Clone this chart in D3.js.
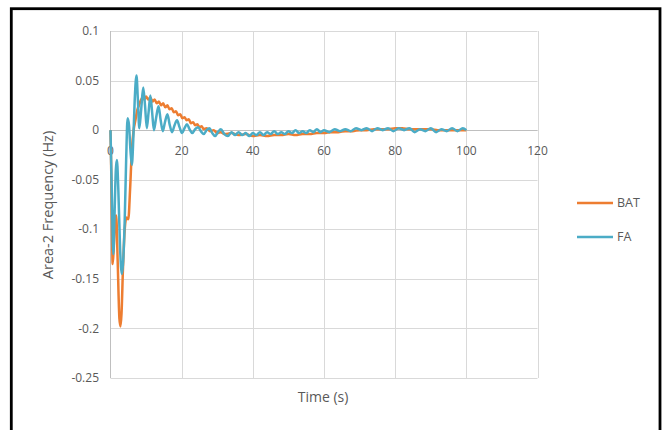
<!DOCTYPE html>
<html>
<head>
<meta charset="utf-8">
<script src="https://cdn.jsdelivr.net/npm/d3@7"></script>
<style>
  body { margin: 0; background: #fff; }
  svg { display: block; font-family: "Open Sans", sans-serif; }
</style>
</head>
<body>
<div class="chart"></div>
<script>
const xTicks = [0, 20, 40, 60, 80, 100, 120];
const yTicks = [0.1, 0.05, 0, -0.05, -0.1, -0.15, -0.2, -0.25];
const seriesNames = ["BAT", "FA"];

// [time (s), frequency deviation (Hz)]
const batPoints = [
  [0, 0], [0.3, -0.06], [0.6, -0.135], [0.9, -0.12], [1.3, -0.09], [1.6, -0.086],
  [2.0, -0.13], [2.5, -0.19], [2.8, -0.198], [3.1, -0.185], [3.5, -0.14], [4.0, -0.1],
  [4.5, -0.088], [5.0, -0.09], [5.5, -0.06], [6.0, -0.02], [6.5, 0.0], [7.0, 0.01],
  [7.5, 0.02], [8.0, 0.025], [8.5, 0.03], [9.0, 0.033], [9.5, 0.031], [10.0, 0.034],
  [10.6, 0.031], [11.2, 0.033], [11.8, 0.029], [12.4, 0.031], [13.0, 0.027], [13.6, 0.029],
  [14.2, 0.025], [14.8, 0.027], [15.4, 0.023], [16.0, 0.025], [16.6, 0.021], [17.2, 0.022],
  [17.8, 0.018], [18.4, 0.019], [19.0, 0.015], [19.6, 0.016], [20.2, 0.012], [20.8, 0.013],
  [21.4, 0.01], [22.0, 0.011], [22.6, 0.007], [23.2, 0.008], [23.8, 0.005], [24.4, 0.006],
  [25.0, 0.003], [25.6, 0.004], [26.2, 0.001], [27.0, 0.002], [28.0, -0.001], [29.0, 0.0],
  [30.0, -0.003], [31.0, -0.002], [32.0, -0.004], [34.0, -0.003], [36.0, -0.005], [38.0, -0.004],
  [40.0, -0.006], [42.0, -0.005], [44.0, -0.006], [46.0, -0.005], [48.0, -0.005], [50.0, -0.004],
  [52.0, -0.005], [54.0, -0.004], [56.0, -0.004], [58.0, -0.003], [60.0, -0.003], [62.0, -0.002],
  [64.0, -0.002], [66.0, -0.001], [68.0, -0.001], [70.0, 0.0], [72.0, 0.0], [74.0, 0.001],
  [76.0, 0.001], [78.0, 0.001], [80.0, 0.002], [82.0, 0.002], [84.0, 0.001], [86.0, 0.001],
  [88.0, 0.001], [90.0, 0.001], [92.0, 0.0], [94.0, 0.0], [96.0, 0.0], [98.0, 0.0], [100.0, 0.0]
];

const faPoints = [
  [0, 0], [0.4, -0.07], [0.8, -0.125], [1.1, -0.09], [1.5, -0.04], [1.8, -0.03],
  [2.2, -0.06], [2.7, -0.12], [3.2, -0.145], [3.6, -0.13], [4.0, -0.09], [4.4, -0.03],
  [4.8, 0.012], [5.2, 0.005], [5.6, -0.02], [6.0, -0.035], [6.4, -0.01], [6.8, 0.03],
  [7.3, 0.055], [7.7, 0.03], [8.1, 0.002], [8.6, 0.02], [9.2, 0.043], [9.7, 0.025],
  [10.2, 0.002], [10.7, 0.018], [11.2, 0.035], [11.7, 0.018], [12.2, 0.0], [12.8, 0.012],
  [13.5, 0.024], [14.1, 0.01], [14.7, -0.001], [15.3, 0.008], [16.0, 0.016], [16.6, 0.006],
  [17.3, -0.002], [18.0, 0.005], [18.7, 0.01], [19.4, 0.003], [20.1, -0.003], [20.8, 0.002],
  [21.5, 0.006], [22.2, 0.001], [23.0, -0.003], [23.8, 0.001], [24.6, 0.003], [25.4, -0.001],
  [26.2, -0.004], [27.0, 0.0], [27.8, 0.002], [28.6, -0.003], [29.4, -0.006], [30.2, -0.002],
  [31.0, 0.001], [32.0, -0.004], [33.0, -0.006], [34.0, -0.002], [35.0, -0.005], [36.0, -0.002],
  [37.0, -0.005], [38.0, -0.003], [39.0, -0.006], [40.0, -0.003], [41.0, -0.005], [42.0, -0.002],
  [43.0, -0.005], [44.0, -0.002], [45.0, -0.004], [46.0, -0.001], [47.0, -0.004], [48.0, -0.002],
  [49.0, -0.004], [50.0, -0.001], [51.0, -0.003], [52.0, 0.0], [53.0, -0.003], [54.0, -0.001],
  [55.0, -0.003], [56.0, 0.0], [57.0, -0.002], [58.0, 0.001], [59.0, -0.002], [60.0, 0.0],
  [61.5, -0.002], [63.0, 0.001], [64.5, -0.001], [66.0, 0.001], [67.5, -0.001], [69.0, 0.002],
  [70.5, 0.0], [72.0, 0.002], [73.5, -0.001], [75.0, 0.002], [76.5, 0.0], [78.0, 0.002],
  [79.5, -0.001], [81.0, 0.002], [82.5, 0.0], [84.0, 0.002], [85.5, -0.002], [87.0, 0.001],
  [88.5, -0.001], [90.0, 0.002], [91.5, -0.002], [93.0, 0.001], [94.5, -0.001], [96.0, 0.002],
  [97.5, -0.001], [99.0, 0.002], [100.0, 0.0]
];

const width = 666;
const height = 430;
const colors = ["#ED7D31", "#4BACC6"];

const svg = d3.select(".chart").append("svg")
    .attr("width", width)
    .attr("height", height);

// outer frame
svg.append("rect")
    .attr("x", 11.3).attr("y", 8.7)
    .attr("width", 648.7).attr("height", 440)
    .attr("fill", "none")
    .attr("stroke", "#000")
    .attr("stroke-width", 2.8);

const x = d3.scaleLinear().domain([0, 120]).range([110.5, 537.5]);
const y = d3.scaleLinear().domain([-0.25, 0.1]).range([378, 31]);

// grid
svg.append("g").selectAll("line")
    .data(yTicks)
    .join("line")
    .attr("x1", x(0)).attr("x2", x(120))
    .attr("y1", d => Math.round(y(d)) + 0.5).attr("y2", d => Math.round(y(d)) + 0.5)
    .attr("stroke", "#d9d9d9").attr("stroke-width", 1);

svg.append("g").selectAll("line")
    .data(xTicks.slice(1))
    .join("line")
    .attr("x1", d => Math.round(x(d)) + 0.5).attr("x2", d => Math.round(x(d)) + 0.5)
    .attr("y1", y(0.1)).attr("y2", y(-0.25))
    .attr("stroke", "#d9d9d9").attr("stroke-width", 1);

// axis lines
svg.append("line")
    .attr("x1", x(0)).attr("x2", x(0))
    .attr("y1", y(0.1)).attr("y2", y(-0.25))
    .attr("stroke", "#bfbfbf");
svg.append("line")
    .attr("x1", x(0)).attr("x2", x(120))
    .attr("y1", Math.round(y(0)) + 0.5).attr("y2", Math.round(y(0)) + 0.5)
    .attr("stroke", "#bfbfbf");

// tick labels
svg.append("g").selectAll("text")
    .data(yTicks)
    .join("text")
    .attr("x", 99)
    .attr("y", d => y(d))
    .attr("dy", "0.35em")
    .attr("text-anchor", "end")
    .attr("font-size", 12)
    .attr("fill", "#595959")
    .text(d => String(d));

svg.append("g").selectAll("text")
    .data(xTicks)
    .join("text")
    .attr("x", d => x(d))
    .attr("y", y(0) + 25)
    .attr("text-anchor", "middle")
    .attr("font-size", 12)
    .attr("fill", "#595959")
    .text(d => d);

// axis titles
svg.append("text")
    .attr("x", 323).attr("y", 402)
    .attr("text-anchor", "middle")
    .attr("font-size", 14)
    .attr("fill", "#595959")
    .text("Time (s)");

svg.append("text")
    .attr("transform", "translate(53,205) rotate(-90)")
    .attr("text-anchor", "middle")
    .attr("font-size", 14.5)
    .attr("fill", "#595959")
    .text("Area-2 Frequency (Hz)");

// series
const line = d3.line()
    .x(d => x(d[0]))
    .y(d => y(d[1]))
    .curve(d3.curveMonotoneX);

[batPoints, faPoints].forEach((pts, i) => {
    svg.append("path")
        .datum(pts)
        .attr("fill", "none")
        .attr("stroke", colors[i])
        .attr("stroke-width", 2.5)
        .attr("stroke-linejoin", "round")
        .attr("d", line);
});

// legend
const legend = svg.append("g").selectAll("g")
    .data(seriesNames)
    .join("g")
    .attr("transform", (d, i) => `translate(577,${203 + i * 34})`);

legend.append("line")
    .attr("x1", 0).attr("x2", 36)
    .attr("stroke", (d, i) => colors[i])
    .attr("stroke-width", 2.5);

legend.append("text")
    .attr("x", 40)
    .attr("dy", "0.35em")
    .attr("font-size", 12.5)
    .attr("fill", "#595959")
    .text(d => d);
</script>
</body>
</html>
